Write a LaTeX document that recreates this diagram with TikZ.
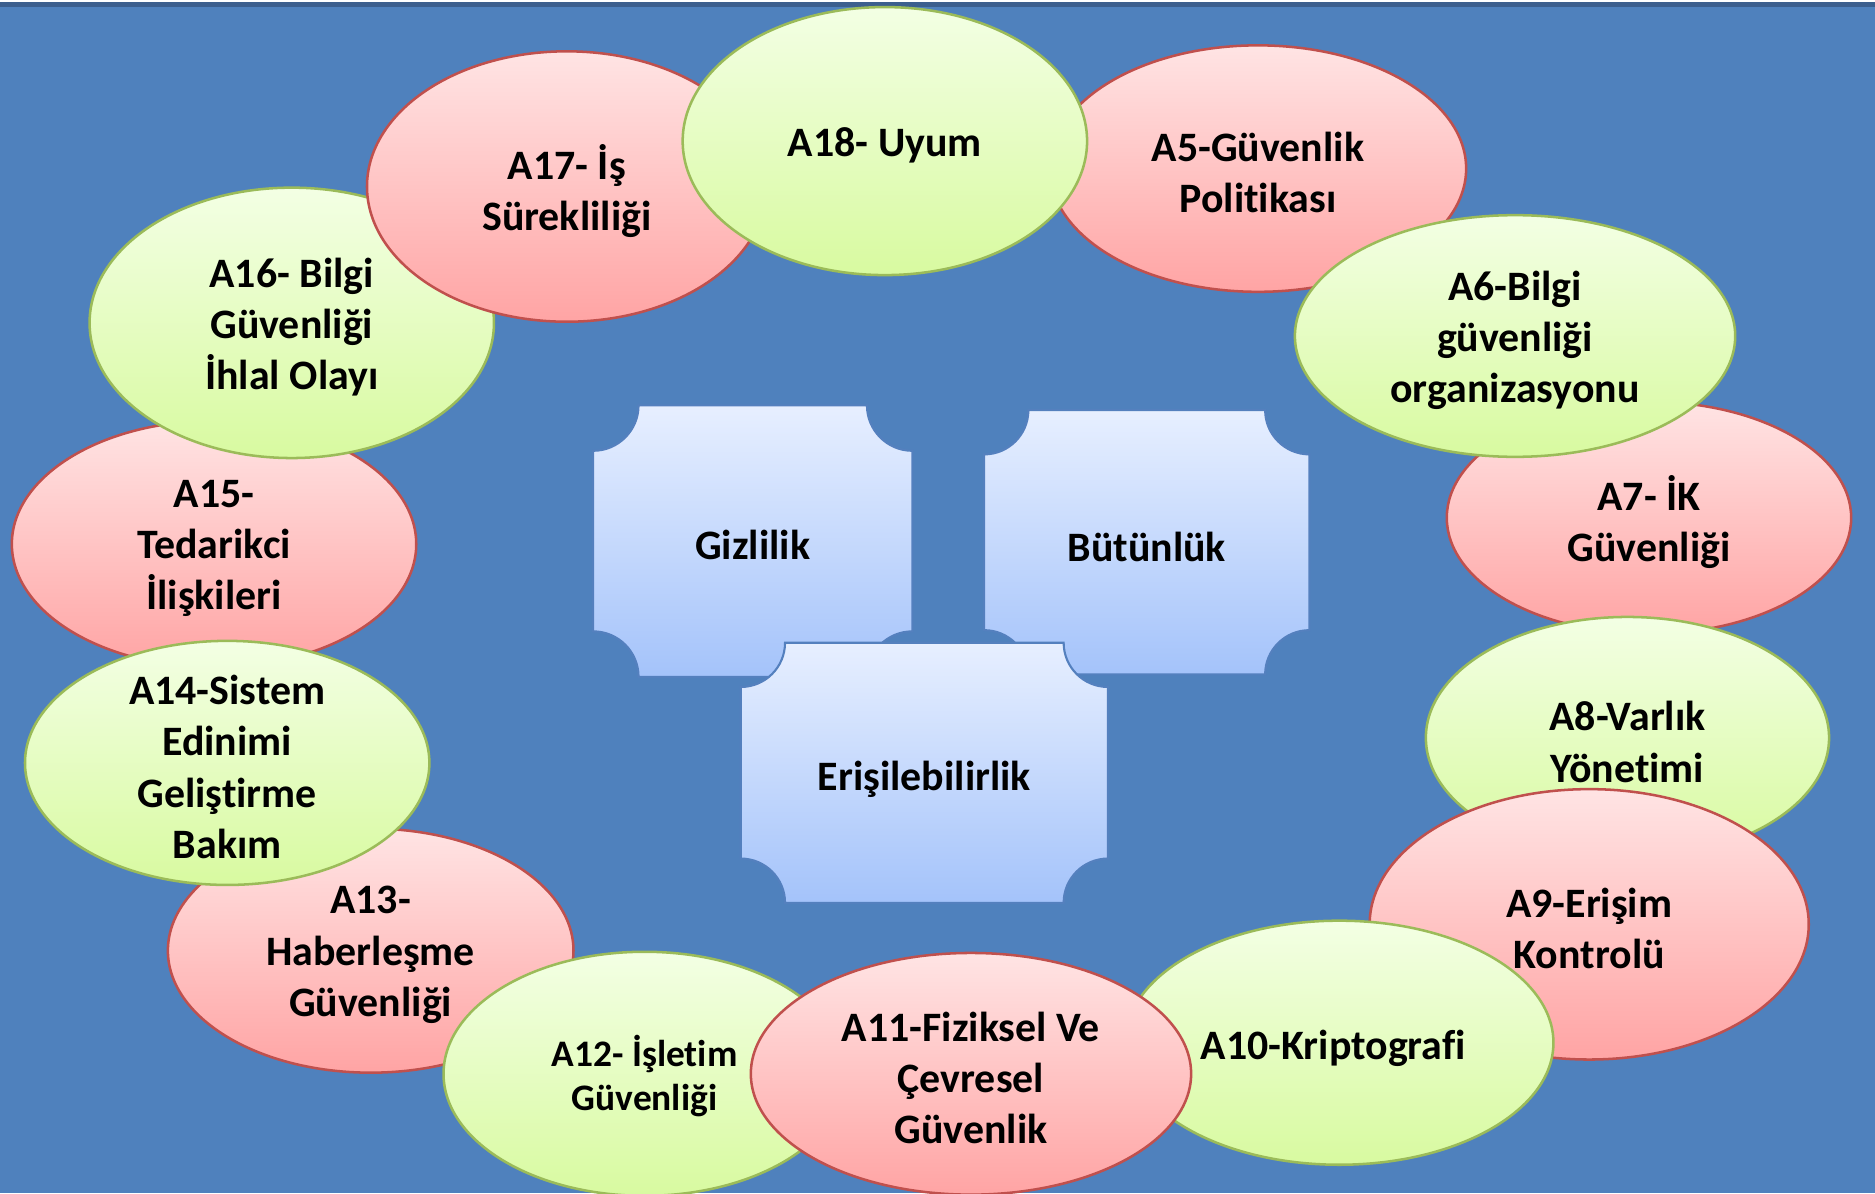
\documentclass[tikz,border=0pt]{standalone}
\usepackage{fontspec}
\setmainfont[Ligatures={NoCommon}]{Carlito}
\usetikzlibrary{shapes.geometric}
\definecolor{bgblue}{RGB}{79,129,189}
\definecolor{topbar}{RGB}{60,95,142}
\definecolor{redline}{RGB}{192,80,77}
\definecolor{redtop}{RGB}{255,228,228}
\definecolor{redbot}{RGB}{255,164,164}
\definecolor{greenline}{RGB}{155,187,89}
\definecolor{greentop}{RGB}{243,255,228}
\definecolor{greenbot}{RGB}{216,250,160}
\definecolor{plqtop}{RGB}{231,239,255}
\definecolor{plqbot}{RGB}{164,195,250}
\definecolor{plqline}{RGB}{84,128,190}
\newcommand\plaque[5]{%
 \path[plq] (#1+#5,#2) -- (#3-#5,#2)
  .. controls (#3-#5,#2+0.5523*#5) and (#3-0.5523*#5,#2+#5) .. (#3,#2+#5)
  -- (#3,#4-#5)
  .. controls (#3-0.5523*#5,#4-#5) and (#3-#5,#4-0.5523*#5) .. (#3-#5,#4)
  -- (#1+#5,#4)
  .. controls (#1+#5,#4-0.5523*#5) and (#1+0.5523*#5,#4-#5) .. (#1,#4-#5)
  -- (#1,#2+#5)
  .. controls (#1+0.5523*#5,#2+#5) and (#1+#5,#2+0.5523*#5) .. (#1+#5,#2)
  -- cycle;}
\begin{document}
\begin{tikzpicture}[x=0.01cm,y=-0.01cm,
  ovr/.style={ellipse, draw=redline, line width=0.6pt, top color=redtop, bottom color=redbot, inner sep=0pt},
  ovg/.style={ellipse, draw=greenline, line width=0.6pt, top color=greentop, bottom color=greenbot, inner sep=0pt},
  lbl/.style={font=\bfseries\fontsize{9.96}{12.2}\selectfont, align=center, text=black, inner sep=0pt, yshift=-0.035cm},
  lbls/.style={font=\bfseries\fontsize{8.9}{10.5}\selectfont, align=center, text=black, inner sep=0pt, yshift=-0.02cm},
  plq/.style={draw=plqline, line width=0.5pt, top color=plqtop, bottom color=plqbot}]
\useasboundingbox (0,0) rectangle (1568,998);
\fill[white] (0,0) rectangle (1568,998);
\fill[bgblue] (0,1.5) rectangle (1568,998);
\fill[topbar] (0,1.5) rectangle (1568,5.5);

% ring of ellipses (drawing order gives the overlaps)
\node[ovr, minimum width=3.48cm, minimum height=2.06cm] (a5) at (1052,141) {};
\node[lbl] (t5) at (a5) {A5-Güvenlik\\Politikası};
\node[ovr, minimum width=3.38cm, minimum height=1.94cm] (a7) at (1379,433) {};
\node[lbl] (t7) at (a7) {A7- İK\\Güvenliği};
\node[ovg, minimum width=3.68cm, minimum height=2.02cm] (a6) at (1267,281) {};
\node[lbl] (t6) at (a6) {A6-Bilgi\\güvenliği\\organizasyonu};
\node[ovg, minimum width=3.37cm, minimum height=2.02cm] (a8) at (1361,617) {};
\node[lbl] (t8) at (a8) {A8-Varlık\\Yönetimi};
\node[ovr, minimum width=3.67cm, minimum height=2.26cm] (a9) at (1329,773) {};
\node[lbl] (t9) at (a9) {A9-Erişim\\Kontrolü};
\node[ovg, minimum width=3.58cm, minimum height=2.04cm] (a10) at (1120,872) {};
\node[lbl] (t10) at (1115,873) {A10-Kriptografi};
\node[ovr, minimum width=3.39cm, minimum height=2.04cm] (a13) at (310,795) {};
\node[lbl] (t13) at (a13) {A13-\\Haberleşme\\Güvenliği};
\node[ovg, minimum width=3.36cm, minimum height=2.04cm] (a12) at (539,898) {};
\node[lbls] (t12) at (a12) {A12- İşletim\\Güvenliği};
\node[ovr, minimum width=3.38cm, minimum height=2.06cm] (a15) at (179,455) {};
\node[lbl] (t15) at (a15) {A15-\\Tedarikci\\İlişkileri};
\node[ovg, minimum width=3.38cm, minimum height=2.04cm] (a14) at (190,638) {};
\node[lbl] (t14) at (a14) {A14-Sistem\\Edinimi\\Geliştirme\\Bakım};
\node[ovg, minimum width=3.38cm, minimum height=2.26cm] (a16) at (244,270) {};
\node[lbl] (t16) at (a16) {A16- Bilgi\\Güvenliği\\İhlal Olayı};
\node[ovr, minimum width=3.34cm, minimum height=2.26cm] (a17) at (474,156) {};
\node[lbl] (t17) at (a17) {A17- İş\\Sürekliliği};
\node[ovr, minimum width=3.68cm, minimum height=2.02cm] (a11) at (812,898) {};
\node[lbl] (t11) at (a11) {A11-Fiziksel Ve\\Çevresel\\Güvenlik};
\node[ovg, minimum width=3.38cm, minimum height=2.24cm] (a18) at (740,118) {};
\node[lbl] (t18) at (a18) {A18- Uyum};

% central plaques
\plaque{496}{339}{763}{566}{38}
\node[lbl] (giz) at (629.5,452.5) {Gizlilik};
\plaque{823}{343}{1095}{564}{37}
\node[lbl] (but) at (959,453.5) {Bütünlük};
\plaque{619.5}{537.5}{926.5}{755}{37}
\node[lbl] (eri) at (773,648) {Erişilebilirlik};
\end{tikzpicture}
\end{document}
